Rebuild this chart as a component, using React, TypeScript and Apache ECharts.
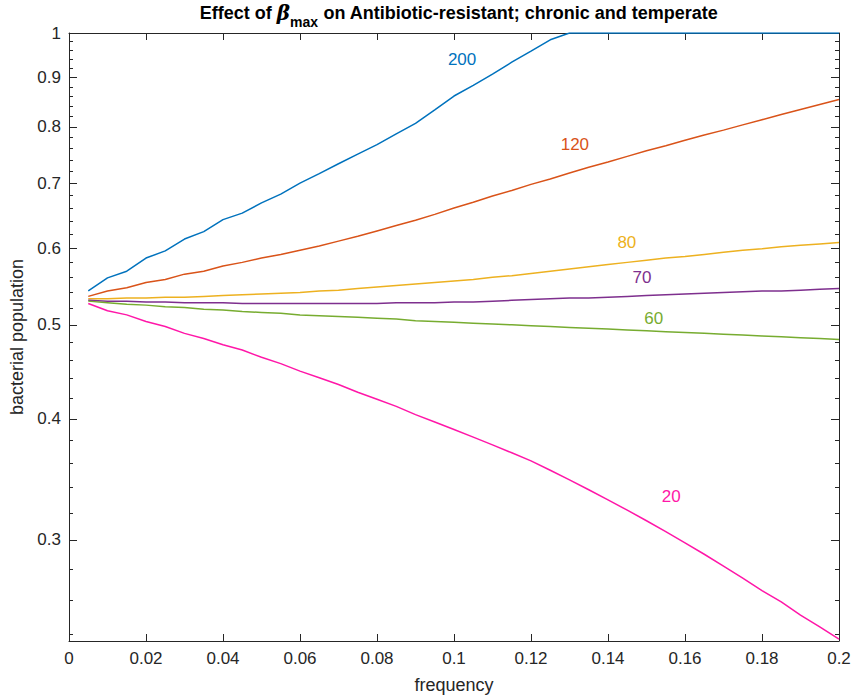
import React, { useEffect, useRef } from "react";
import * as echarts from "echarts";

const frequency = [
  0.005, 0.01, 0.015, 0.02, 0.025, 0.03, 0.035, 0.04, 0.045, 0.05,
  0.055, 0.06, 0.065, 0.07, 0.075, 0.08, 0.085, 0.09, 0.095, 0.1,
  0.105, 0.11, 0.115, 0.12, 0.125, 0.13, 0.135, 0.14, 0.145, 0.15,
  0.155, 0.16, 0.165, 0.17, 0.175, 0.18, 0.185, 0.19, 0.195, 0.2,
];

const beta200 = [
  0.542, 0.559, 0.568, 0.586, 0.596, 0.613, 0.624, 0.642, 0.652, 0.668,
  0.682, 0.7, 0.716, 0.733, 0.75, 0.767, 0.787, 0.807, 0.833, 0.861,
  0.883, 0.907, 0.933, 0.958, 0.984, 1, 1, 1, 1, 1,
  1, 1, 1, 1, 1, 1, 1, 1, 1, 1,
];
const beta120 = [
  0.535, 0.542, 0.546, 0.553, 0.557, 0.564, 0.568, 0.575, 0.58, 0.586,
  0.591, 0.597, 0.603, 0.61, 0.617, 0.625, 0.633, 0.641, 0.65, 0.66,
  0.669, 0.679, 0.688, 0.698, 0.707, 0.717, 0.727, 0.736, 0.746, 0.756,
  0.765, 0.775, 0.785, 0.794, 0.804, 0.814, 0.824, 0.834, 0.844, 0.854,
];
const beta80 = [
  0.532, 0.532, 0.533, 0.533, 0.534, 0.534, 0.535, 0.536, 0.537, 0.538,
  0.539, 0.54, 0.542, 0.543, 0.545, 0.547, 0.549, 0.551, 0.553, 0.555,
  0.557, 0.56, 0.562, 0.565, 0.568, 0.571, 0.574, 0.577, 0.58, 0.583,
  0.586, 0.588, 0.591, 0.594, 0.597, 0.599, 0.602, 0.604, 0.606, 0.608,
];
const beta70 = [
  0.53, 0.529, 0.529, 0.528, 0.528, 0.527, 0.527, 0.527, 0.526, 0.526,
  0.526, 0.526, 0.526, 0.526, 0.526, 0.526, 0.527, 0.527, 0.527, 0.528,
  0.528, 0.529, 0.53, 0.531, 0.532, 0.533, 0.533, 0.534, 0.535, 0.536,
  0.537, 0.538, 0.539, 0.54, 0.541, 0.542, 0.542, 0.543, 0.544, 0.545,
];
const beta60 = [
  0.529, 0.527, 0.525, 0.524, 0.522, 0.521, 0.519, 0.518, 0.516, 0.515,
  0.514, 0.512, 0.511, 0.51, 0.509, 0.508, 0.507, 0.505, 0.504, 0.503,
  0.502, 0.501, 0.5, 0.499, 0.498, 0.497, 0.496, 0.495, 0.494, 0.493,
  0.492, 0.491, 0.49, 0.489, 0.488, 0.487, 0.486, 0.485, 0.484, 0.483,
];
const beta20 = [
  0.526, 0.517, 0.512, 0.504, 0.498, 0.49, 0.484, 0.477, 0.471, 0.463,
  0.456, 0.448, 0.441, 0.434, 0.426, 0.419, 0.412, 0.404, 0.397, 0.39,
  0.383, 0.376, 0.369, 0.362, 0.354, 0.346, 0.338, 0.33, 0.322, 0.314,
  0.306, 0.298, 0.29, 0.282, 0.274, 0.266, 0.259, 0.251, 0.244, 0.237,
];

const seriesNames = ["200", "120", "80", "70", "60", "20"];
const seriesValues = [beta200, beta120, beta80, beta70, beta60, beta20];
const seriesColors = ["#0072BD", "#D95319", "#EDB120", "#7E2F8E", "#77AC30", "#FF17A8"];
// label anchor positions [frequency, population]
const labelX = [0.1021, 0.1314, 0.1449, 0.1488, 0.1519, 0.1564];
const labelY = [0.938, 0.7666, 0.6075, 0.559, 0.508, 0.3324];

const yMajorTicks = [0.3, 0.4, 0.5, 0.6, 0.7, 0.8, 0.9, 1];
const yMinorTicks = [
  0.24, 0.26, 0.28, 0.32, 0.34, 0.36, 0.38, 0.42, 0.44, 0.46, 0.48,
  0.52, 0.54, 0.56, 0.58, 0.62, 0.64, 0.66, 0.68, 0.72, 0.74, 0.76, 0.78,
  0.82, 0.84, 0.86, 0.88, 0.92, 0.94, 0.96, 0.98,
];

const FONT = "'Liberation Sans', Arial, Helvetica, sans-serif";
const AX = "#262626";

export default function App() {
  const ref = useRef<HTMLDivElement>(null);
  useEffect(() => {
    if (!ref.current) return;
    const chart = echarts.init(ref.current, null, { renderer: "svg" });
    const yMin = 0.236;
    const yMax = 1;
    const xBase = {
      type: "value",
      min: 0,
      max: 0.2,
      interval: 0.02,
      splitLine: { show: false },
      axisLine: { show: true, onZero: false, lineStyle: { color: AX, width: 1 } },
      axisTick: { show: true, inside: true, length: 7, lineStyle: { color: AX } },
    };
    const yBase = (pos: string, ticks: number[], len: number, line: boolean) => ({
      type: "log",
      min: yMin,
      max: yMax,
      position: pos,
      splitLine: { show: false },
      axisLine: { show: line, lineStyle: { color: AX, width: 1 } },
      axisTick: { show: true, inside: true, length: len, customValues: ticks, lineStyle: { color: AX } },
      axisLabel: { show: false },
    });
    const option: any = {
      animation: false,
      backgroundColor: "#fff",
      title: {
        text: "{a|Effect of }{b|β}{c|max}{a| on Antibiotic-resistant; chronic and temperate}",
        left: 454,
        top: -8,
        textAlign: "center",
        textStyle: {
          rich: {
            a: { fontSize: 18, fontWeight: "bold", color: "#000", fontFamily: FONT },
            b: { fontSize: 20, fontWeight: "bold", fontStyle: "italic", color: "#000", fontFamily: "'DejaVu Serif', serif" },
            c: { fontSize: 14, fontWeight: "bold", color: "#000", fontFamily: FONT, padding: [18, 0, 0, 0] },
          },
        },
      },
      grid: { left: 69, right: 15, top: 33, bottom: 59, containLabel: false },
      xAxis: [
        {
          ...xBase,
          position: "bottom",
          axisLabel: { fontSize: 17, color: AX, fontFamily: FONT, margin: 9 },
          name: "frequency",
          nameLocation: "middle",
          nameGap: 35,
          nameTextStyle: { fontSize: 18, color: AX, fontFamily: FONT },
        },
        { ...xBase, position: "top", axisLabel: { show: false } },
      ],
      yAxis: [
        {
          ...yBase("left", yMajorTicks, 8, true),
          axisLabel: {
            show: true,
            customValues: yMajorTicks,
            fontSize: 17,
            color: AX,
            fontFamily: FONT,
            margin: 8,
            formatter: (v: number) => String(Math.round(v * 10) / 10),
          },
          name: "bacterial population",
          nameLocation: "middle",
          nameGap: 38,
          nameTextStyle: { fontSize: 18, color: AX, fontFamily: FONT },
        },
        yBase("left", yMinorTicks, 4, false),
        yBase("right", yMajorTicks, 8, true),
        yBase("right", yMinorTicks, 4, false),
      ],
      series: seriesNames.map((name, i) => ({
        name,
        type: "line",
        xAxisIndex: 0,
        yAxisIndex: 0,
        showSymbol: false,
        symbol: "none",
        lineStyle: { color: seriesColors[i], width: 1.5 },
        itemStyle: { color: seriesColors[i] },
        data: frequency.map((f, j) => [f, seriesValues[i][j]]),
        markPoint: {
          symbol: "circle",
          symbolSize: 1,
          itemStyle: { color: "rgba(0,0,0,0)" },
          label: {
            show: true,
            position: "inside",
            formatter: name,
            color: seriesColors[i],
            fontSize: 17,
            fontFamily: FONT,
          },
          data: [{ coord: [labelX[i], labelY[i]], value: name }],
        },
      })),
    };
    chart.setOption(option);
    return () => chart.dispose();
  }, []);
  return (
    <div
      ref={ref}
      style={{ position: "fixed", left: 0, top: 0, width: 854, height: 700, background: "#fff" }}
    />
  );
}
